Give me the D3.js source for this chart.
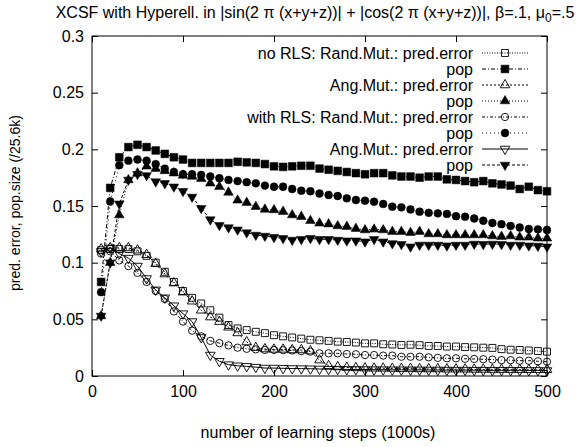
<!DOCTYPE html>
<html>
<head>
<meta charset="utf-8">
<script src="https://d3js.org/d3.v7.min.js"></script>
<style>
  body { margin: 0; background: #fff; }
  text { font-family: "Liberation Sans", Arial, sans-serif; fill: #000; }
</style>
</head>
<body>
<div id="my_dataviz"></div>
<script>
// learning steps (1000s)
const steps = [10,20,30,40,50,60,70,80,90,100,110,120,130,140,150,160,170,180,190,200,
  210,220,230,240,250,260,270,280,290,300,310,320,330,340,350,360,370,380,390,400,
  410,420,430,440,450,460,470,480,490,500];

// no RLS, random mutation
const noRlsRandErr = [.111,.112,.112,.112,.110,.106,.100,.092,.083,.075,.069,.064,.058,.0515,.045,.042,.0405,.039,.0378,.036,
  .035,.034,.033,.032,.0315,.031,.0303,.030,.0295,.0288,.0288,.028,.0278,.0274,.0276,.0272,.0265,.0265,.026,.026,
  .0255,.0253,.025,.0248,.0237,.0232,.023,.0225,.022,.0215];
const noRlsRandPop = [.083,.166,.193,.202,.204,.202,.199,.196,.193,.191,.188,.188,.188,.188,.188,.189,.1885,.188,.187,.185,
  .1845,.185,.1855,.1855,.183,.182,.181,.180,.179,.178,.179,.179,.177,.176,.176,.175,.176,.176,.1735,.173,
  .172,.171,.172,.170,.169,.168,.165,.167,.164,.163];
// no RLS, angular mutation
const noRlsAngErr = [.112,.113,.113,.113,.111,.107,.099,.090,.082,.074,.066,.058,.052,.048,.043,.038,.030,.025,.0238,.0235,
  .0235,.023,.023,.022,.014,.009,.008,.0075,.0072,.0070,.0068,.0068,.0066,.0065,.0065,.0063,.0062,.0062,.006,.006,
  .006,.0058,.0058,.0057,.0057,.0056,.0056,.0055,.0055,.0055];
const noRlsAngPop = [.053,.100,.142,.173,.179,.185,.183,.181,.179,.177,.176,.174,.170,.167,.162,.155,.153,.1494,.147,.1465,
  .145,.142,.1406,.137,.1347,.134,.1324,.1318,.130,.1288,.1294,.1288,.1274,.1274,.1265,.1274,.1253,.1253,.1244,.1244,
  .1244,.1244,.1244,.1235,.123,.1235,.1224,.1224,.1215,.1215];
// with RLS, random mutation
const rlsRandErr = [.108,.110,.102,.097,.091,.083,.075,.068,.057,.048,.040,.035,.031,.029,.027,.025,.024,.0235,.023,.023,
  .0228,.0225,.022,.0215,.020,.020,.020,.0194,.0192,.0185,.0185,.018,.018,.017,.017,.017,.0165,.016,.0156,.0156,
  .0152,.015,.0148,.0145,.014,.014,.0135,.0135,.013,.0126];
const rlsRandPop = [.074,.154,.186,.190,.191,.190,.187,.183,.180,.178,.178,.1775,.176,.1745,.173,.172,.171,.170,.168,.167,
  .167,.165,.1635,.163,.161,.1597,.1588,.1568,.1553,.1547,.1538,.1518,.1494,.1488,.147,.145,.144,.1435,.143,.141,
  .1406,.139,.137,.135,.134,.1324,.131,.1297,.1294,.1288];
// with RLS, angular mutation
const rlsAngErr = [.110,.113,.108,.104,.097,.086,.076,.069,.062,.055,.048,.034,.0185,.013,.010,.009,.0085,.0078,.007,.007,
  .0068,.0066,.0065,.0064,.0062,.006,.006,.0058,.0058,.0057,.0056,.0056,.0055,.0055,.0054,.0054,.0053,.0053,.0052,.0052,
  .0052,.0051,.0051,.005,.005,.005,.005,.0049,.0049,.0048];
const rlsAngPop = [.053,.100,.152,.173,.178,.177,.1715,.170,.167,.163,.158,.148,.138,.133,.131,.129,.1265,.1244,.1235,.1224,
  .1215,.120,.1206,.1215,.1206,.1206,.120,.1194,.1194,.1185,.1206,.1185,.117,.1162,.1141,.1156,.1156,.1156,.115,.1156,
  .1156,.1165,.1162,.1165,.1162,.1156,.1156,.115,.1147,.1141];

const legendLabels = ["no RLS: Rand.Mut.: pred.error", "pop", "Ang.Mut.: pred.error", "pop",
  "with RLS: Rand.Mut.: pred.error", "pop", "Ang.Mut.: pred.error", "pop"];

const xTicks = [0, 100, 200, 300, 400, 500];
const yTicks = [0, 0.05, 0.1, 0.15, 0.2, 0.25, 0.3];

// set the dimensions and margins of the graph
const margin = {top: 36, right: 29, bottom: 71, left: 92},
    width = 576 - margin.left - margin.right,
    height = 447 - margin.top - margin.bottom;

const root = d3.select("#my_dataviz")
  .append("svg")
    .attr("width", 576)
    .attr("height", 447);

const svg = root.append("g")
    .attr("transform", `translate(${margin.left},${margin.top})`);

const x = d3.scaleLinear().domain([0, 500]).range([0, width]);
const y = d3.scaleLinear().domain([0, 0.3]).range([height, 0]);

// series styling, gnuplot-ish
const series = [
  {values: noRlsRandErr, sym: d3.symbolSquare,   fill: false, rot: 0,   size: 48, dash: "1,1.5"},
  {values: noRlsRandPop, sym: d3.symbolSquare,   fill: true,  rot: 0,   size: 60, dash: "4,2,1,2"},
  {values: noRlsAngErr,  sym: d3.symbolTriangle, fill: false, rot: 0,   size: 40, dash: "2,2"},
  {values: noRlsAngPop,  sym: d3.symbolTriangle, fill: true,  rot: 0,   size: 40, dash: "1,2"},
  {values: rlsRandErr,   sym: d3.symbolCircle,   fill: false, rot: 0,   size: 42, dash: "3,2,1,2"},
  {values: rlsRandPop,   sym: d3.symbolCircle,   fill: true,  rot: 0,   size: 48, dash: "1,3"},
  {values: rlsAngErr,    sym: d3.symbolTriangle, fill: false, rot: 180, size: 40, dash: null},
  {values: rlsAngPop,    sym: d3.symbolTriangle, fill: true,  rot: 180, size: 40, dash: "3,2"}
];

// axes with inward ticks on all four sides
const fmt = d3.format("~g");
svg.append("g")
  .attr("transform", `translate(0, ${height})`)
  .call(d3.axisBottom(x).tickValues(xTicks).tickSize(-6).tickPadding(10).tickFormat(fmt))
  .call(g => g.select(".domain").remove());
svg.append("g")
  .call(d3.axisTop(x).tickValues(xTicks).tickSize(-6).tickFormat(""))
  .call(g => g.select(".domain").remove());
svg.append("g")
  .call(d3.axisLeft(y).tickValues(yTicks).tickSize(-6).tickPadding(8).tickFormat(fmt))
  .call(g => g.select(".domain").remove());
svg.append("g")
  .attr("transform", `translate(${width}, 0)`)
  .call(d3.axisRight(y).tickValues(yTicks).tickSize(-6).tickFormat(""))
  .call(g => g.select(".domain").remove());

svg.selectAll(".tick text").style("font-size", "16px").style("font-family", '"Liberation Sans", Arial, sans-serif');
svg.selectAll(".tick line").attr("stroke", "#000");

svg.append("rect")
  .attr("width", width).attr("height", height)
  .attr("fill", "none").attr("stroke", "#000").attr("stroke-width", 1);

// lines and points
const line = d3.line()
  .x((d, i) => x(steps[i]))
  .y(d => y(d));

function drawMarker(g, s, cx, cy) {
  g.append("path")
    .attr("d", d3.symbol().type(s.sym).size(s.size))
    .attr("transform", `translate(${cx},${cy}) rotate(${s.rot})`)
    .attr("fill", s.fill ? "#000" : "none")
    .attr("stroke", "#000")
    .attr("stroke-width", s.fill ? 0.5 : 0.9);
}

series.forEach(s => {
  svg.append("path")
    .datum(s.values)
    .attr("fill", "none")
    .attr("stroke", "#000")
    .attr("stroke-width", 1)
    .attr("stroke-dasharray", s.dash)
    .attr("d", line);
  const g = svg.append("g");
  s.values.forEach((v, i) => drawMarker(g, s, x(steps[i]), y(v)));
});

// legend
const legend = root.append("g");
legendLabels.forEach((lab, i) => {
  const s = series[i];
  const ly = 53 + i * 16;
  legend.append("text")
    .attr("x", 473).attr("y", ly).attr("dy", "0.35em")
    .attr("text-anchor", "end")
    .style("font-size", "16px")
    .text(lab);
  legend.append("line")
    .attr("x1", 482).attr("x2", 528).attr("y1", ly).attr("y2", ly)
    .attr("stroke", "#000").attr("stroke-width", 1)
    .attr("stroke-dasharray", s.dash);
  drawMarker(legend, s, 505, ly);
});

// title
const title = root.append("text")
  .attr("x", 315).attr("y", 18)
  .attr("text-anchor", "middle")
  .style("font-size", "16px");
title.append("tspan").text("XCSF with Hyperell. in |sin(2 \u03c0 (x+y+z))| + |cos(2 \u03c0 (x+y+z))|, \u03b2=.1, \u03bc");
title.append("tspan").attr("dy", 4).style("font-size", "12px").text("0");
title.append("tspan").attr("dy", -4).text("=.5");

// axis labels
root.append("text")
  .attr("x", 318).attr("y", 438)
  .attr("text-anchor", "middle")
  .style("font-size", "16px")
  .text("number of learning steps (1000s)");

root.append("text")
  .attr("transform", "translate(20, 203) rotate(-90)")
  .attr("text-anchor", "middle")
  .style("font-size", "14px")
  .text("pred. error, pop.size (/25.6k)");
</script>
</body>
</html>
